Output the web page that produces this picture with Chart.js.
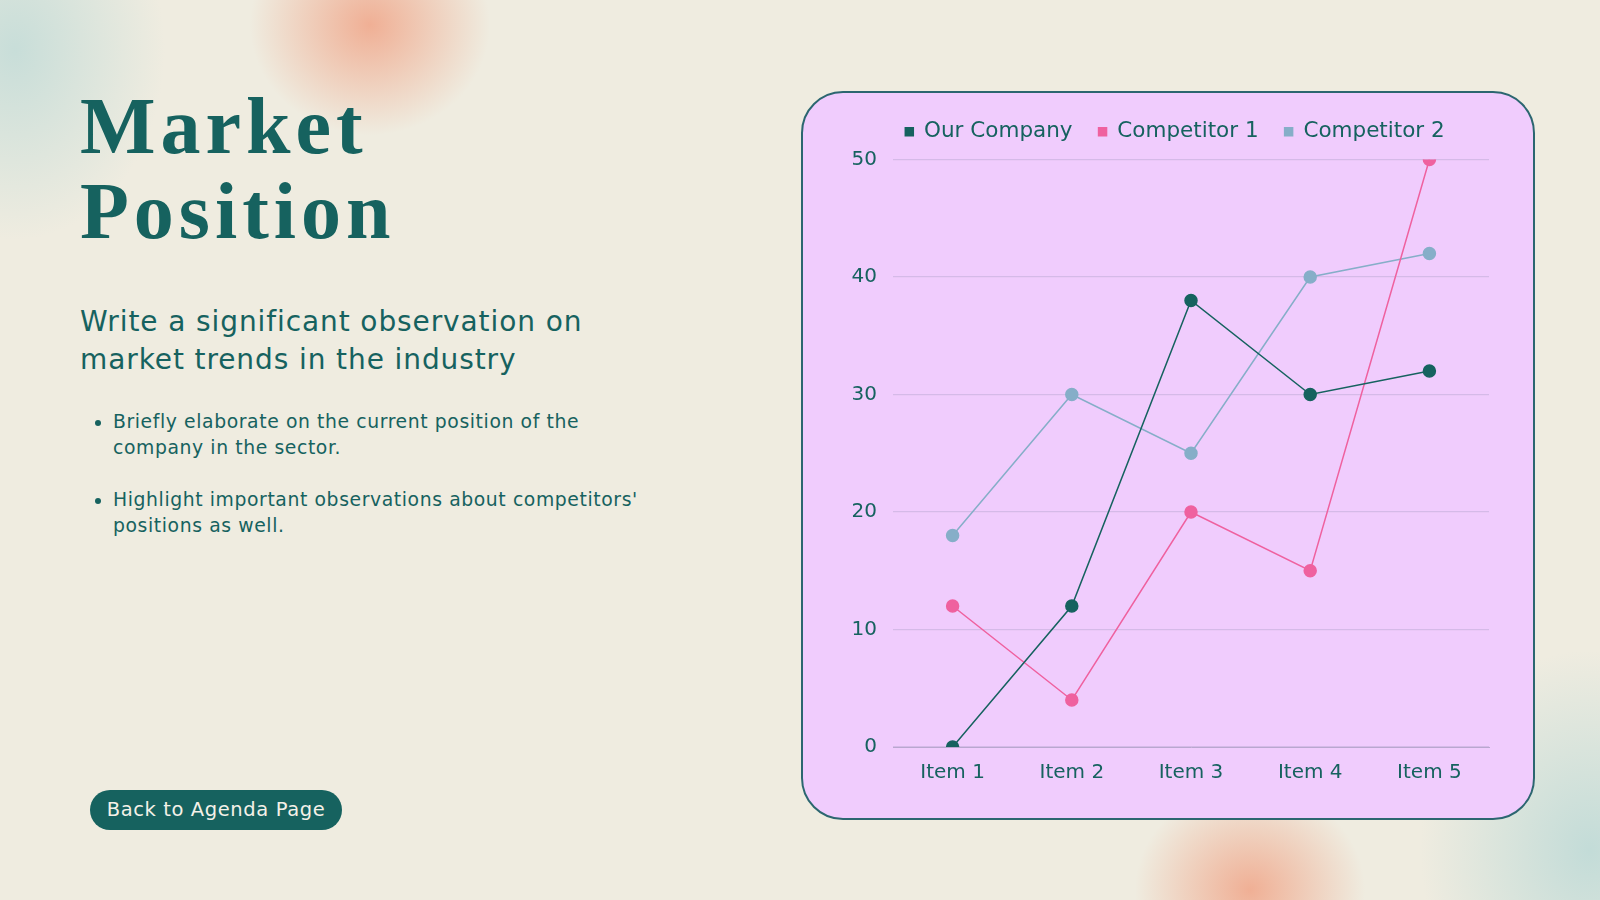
<!DOCTYPE html>
<html>
<head>
<meta charset="utf-8">
<script src="https://cdn.jsdelivr.net/npm/chart.js@4"></script>
<style>
  html, body { margin: 0; padding: 0; }
  body {
    width: 1600px; height: 900px; overflow: hidden; position: relative;
    background-color: #efece0;
    background-image:
      radial-gradient(ellipse 120px 110px at 370px 25px, rgba(240,160,130,0.8), rgba(240,170,140,0) 100%),
      radial-gradient(ellipse 150px 190px at 15px 50px, rgba(190,218,215,0.8), rgba(190,218,215,0) 100%),
      radial-gradient(ellipse 115px 105px at 1250px 890px, rgba(240,160,130,0.8), rgba(240,170,140,0) 100%),
      radial-gradient(ellipse 170px 200px at 1590px 850px, rgba(190,218,215,0.9), rgba(190,218,215,0) 100%);
    font-family: "DejaVu Sans", sans-serif;
    color: #16625f;
  }
  h1 {
    position: absolute; left: 80px; top: 84px; margin: 0;
    font-family: "Liberation Serif", serif; font-weight: bold;
    font-size: 80px; line-height: 85px; color: #16625f; letter-spacing: 5px;
  }
  .sub {
    position: absolute; left: 80px; top: 303px; margin: 0;
    font-size: 28px; line-height: 38px; font-weight: normal; letter-spacing: 0.9px;
  }
  ul {
    position: absolute; left: 90px; top: 409px; margin: 0; padding-left: 23px;
    width: 640px; font-size: 18.8px; line-height: 26px; letter-spacing: 0.6px;
  }
  li { margin-bottom: 26px; }
  .btn {
    position: absolute; left: 90px; top: 790px; width: 252px; height: 40px;
    border-radius: 20px; background: #16625f; color: #f4f1e8;
    font-size: 19.5px; line-height: 40px; text-align: center; letter-spacing: 0.6px;
  }
  .card {
    position: absolute; left: 801px; top: 91px; width: 730px; height: 725px;
    background: #f0ccfd; border: 2px solid #2c6670; border-radius: 42px;
  }
  .card canvas { position: absolute; left: 0; top: 0; }
</style>
</head>
<body>
<h1>Market<br>Position</h1>
<p class="sub">Write a significant observation on<br>market trends in the industry</p>
<ul>
  <li>Briefly elaborate on the current position of the<br>company in the sector.</li>
  <li>Highlight important observations about competitors'<br>positions as well.</li>
</ul>
<div class="btn">Back to Agenda Page</div>
<div class="card"><canvas id="chart" width="730" height="725"></canvas></div>
<script>
const categories = ['Item 1', 'Item 2', 'Item 3', 'Item 4', 'Item 5'];
const ourCompany = [0, 12, 38, 30, 32];
const competitor1 = [12, 4, 20, 15, 50];
const competitor2 = [18, 30, 25, 40, 42];

const teal = '#16625f';
const pink = '#ef619f';
const blue = '#86aec8';
const fontFamily = 'DejaVu Sans';

function series(label, data, color) {
  return {
    label: label,
    data: data,
    borderColor: color,
    backgroundColor: color,
    pointBackgroundColor: color,
    pointBorderColor: color,
    pointRadius: 6,
    pointHoverRadius: 6,
    borderWidth: 1.5,
    tension: 0
  };
}

// extra space under the legend, and nudge it right to sit over the plot
const legendTweak = {
  id: 'legendTweak',
  afterInit(chart) {
    const fit = chart.legend.fit;
    chart.legend.fit = function () {
      fit.call(this);
      this.height += 7;
    };
  },
  afterLayout(chart) {
    chart.legend.left += 19;
    chart.legend.right += 19;
  }
};

const ctx = document.getElementById('chart').getContext('2d');
const chart = new Chart(ctx, {
  type: 'line',
  data: {
    labels: categories,
    datasets: [
      series('Our Company', ourCompany, teal),
      series('Competitor 1', competitor1, pink),
      series('Competitor 2', competitor2, blue)
    ]
  },
  options: {
    responsive: false,
    animation: false,
    devicePixelRatio: 1,
    layout: { padding: { left: 20, right: 44, top: 2, bottom: 27 } },
    plugins: {
      tooltip: { enabled: false },
      legend: {
        position: 'top',
        labels: {
          boxWidth: 8, boxHeight: 8, padding: 26,
          color: teal,
          font: { family: fontFamily, size: 21.5 }
        }
      }
    },
    scales: {
      x: {
        offset: true,
        grid: { display: false },
        border: { display: true, color: '#b9a7cf', width: 1 },
        ticks: { color: teal, padding: 6, font: { family: fontFamily, size: 20 } }
      },
      y: {
        min: 0, max: 50,
        ticks: { stepSize: 10, color: teal, padding: 16, font: { family: fontFamily, size: 20 } },
        grid: { color: '#d5bae8', lineWidth: 1.3, drawTicks: false },
        border: { display: false },
        afterFit: function (scale) { scale.width = 70; }
      }
    }
  },
  plugins: [legendTweak]
});
</script>
</body>
</html>
